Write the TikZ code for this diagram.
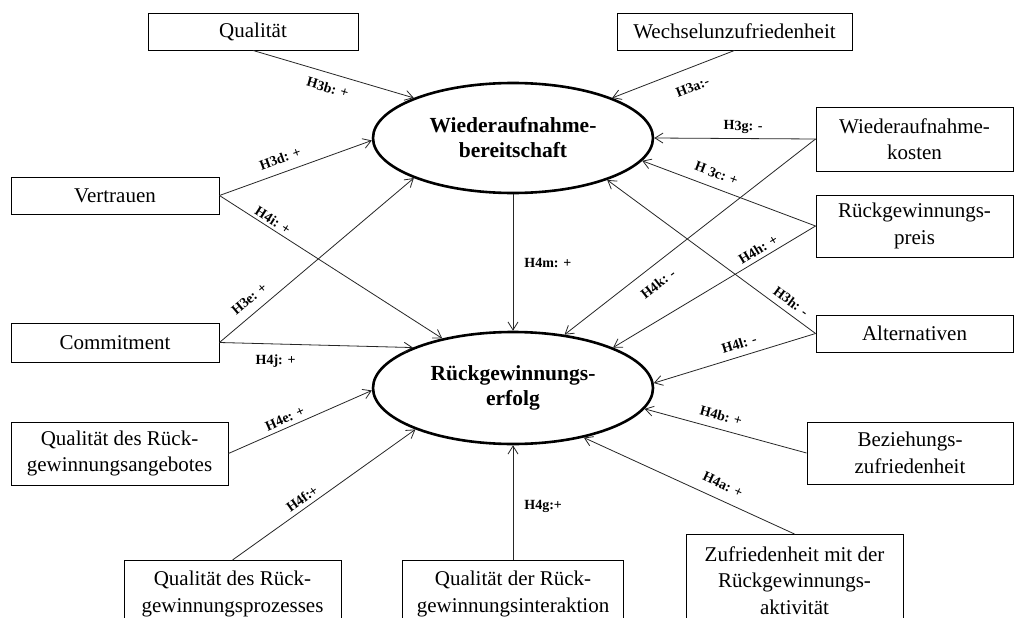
\documentclass[tikz,border=0pt]{standalone}
\usepackage{fontspec}
\setmainfont{Liberation Serif}
\usetikzlibrary{arrows.meta,shapes.geometric}

\begin{document}
\begin{tikzpicture}[x=1pt,y=-1pt,
  box/.style={draw=black, line width=0.9pt, fill=white, inner sep=2pt, align=center,
    font=\fontsize{21}{26.5}\selectfont},
  construct/.style={ellipse, draw=black, line width=2.6pt, fill=white, inner sep=0pt,
    minimum width=280pt, minimum height=110pt, align=center,
    font=\fontsize{21.5}{25}\selectfont\bfseries},
  link/.style={draw=black!85, line width=0.8pt, -{Straight Barb[length=8pt,width=10pt]}},
  flat/.style={font=\fontsize{14}{16}\selectfont\bfseries, inner sep=1pt},
  hyp/.style={flat, sloped},
]
\useasboundingbox (0,0) rectangle (1014,618);
\fill[white] (0,0) rectangle (1014,618);
\clip (0,0) rectangle (1014,618);

% constructs
\node[construct] (wb) at (513,138) {Wiederaufnahme-\\bereitschaft};
\node[construct, minimum height=112pt] (rg) at (513,388) {Rückgewinnungs-\\erfolg};

% antecedents
\node[box, minimum width=210pt, minimum height=37pt] (qual) at (253,31.5) {Qualität};
\node[box, minimum width=235pt, minimum height=37pt] (wechsel) at (734.5,31.5) {Wechselunzufriedenheit};
\node[box, minimum width=197pt, minimum height=64pt] (kosten) at (914.5,139) {Wiederaufnahme-\\kosten};
\node[box, minimum width=197pt, minimum height=62pt] (preis) at (914.5,226) {Rückgewinnungs-\\preis};
\node[box, minimum width=197pt, minimum height=37pt] (altern) at (914.5,333.5) {Alternativen};
\node[box, minimum width=208pt, minimum height=37pt] (vertr) at (115,195.5) {Vertrauen};
\node[box, minimum width=208pt, minimum height=39pt] (commit) at (115,342.5) {Commitment};
\node[box, minimum width=217pt, minimum height=63pt] (angebot) at (119.5,453.5) {Qualität des Rück-\\gewinnungsangebotes};
\node[box, minimum width=206pt, minimum height=62pt] (bezieh) at (910,453) {Beziehungs-\\zufriedenheit};
\node[box, anchor=north, minimum width=217pt, minimum height=67pt] (prozess) at (232.5,560) {Qualität des Rück-\\gewinnungsprozesses};
\node[box, anchor=north, minimum width=221pt, minimum height=67pt] (interakt) at (513,560) {Qualität der Rück-\\gewinnungsinteraktion};
\node[box, anchor=north, minimum width=217pt, minimum height=92pt] (zufried) at (794.5,534) {Zufriedenheit mit der\\Rückgewinnungs-\\aktivität};

% hypotheses
\draw[link] (qual.south) -- (wb.158) node[hyp,pos=0.49,below=8pt]{H3b: +};
\draw[link] (wechsel.south) -- (wb.22) node[hyp,pos=0.4,below=13pt]{H3a:-};
\draw[link] (kosten.west) -- (wb.0) node[hyp,pos=0.45,above=4pt]{H3g: -};
\draw[link] (preis.west) -- (wb.-10.5) node[hyp,pos=0.6,above=8pt]{H 3c: +};
\draw[link] (kosten.west) -- (rg.46) node[hyp,pos=0.67,below=11pt]{H4k: -};
\draw[link] (preis.west) -- (rg.22) node[hyp,pos=0.26,above=3pt]{H4h: +};
\draw[link] (altern.west) -- (wb.-24) node[hyp,pos=0.15,above=5pt]{H3h: -};
\draw[link] (altern.west) -- (rg.2) node[hyp,pos=0.45,above=6pt]{H4l: -};
\draw[link] (bezieh.west) -- (rg.-9.5) node[hyp,pos=0.55,above=7pt]{H4b: +};
\draw[link] (zufried.north) -- (rg.-35) node[hyp,pos=0.37,above=9pt]{H4a: +};
\draw[link] (interakt.north) -- (rg.south) node[flat,pos=0.47,right=10pt]{H4g:+};
\draw[link] (prozess.north) -- (rg.203) node[hyp,pos=0.41,above=3pt]{H4f:+};
\draw[link] (angebot.east) -- (rg.181) node[hyp,pos=0.42,above=3pt]{H4e: +};
\draw[link] (commit.east) -- (rg.158) node[flat,pos=0.29,below=9pt]{H4j: +};
\draw[link] (commit.east) -- (wb.202) node[hyp,pos=0.2,above=8pt]{H3e: +};
\draw[link] (vertr.east) -- (wb.181) node[hyp,pos=0.43,above=8pt]{H3d: +};
\draw[link] (vertr.east) -- (rg.145.6) node[hyp,pos=0.22,above=2pt]{H4i: +};
\draw[link] (wb.south) -- (rg.north) node[flat,pos=0.5,right=10pt]{H4m: +};
\end{tikzpicture}
\end{document}
